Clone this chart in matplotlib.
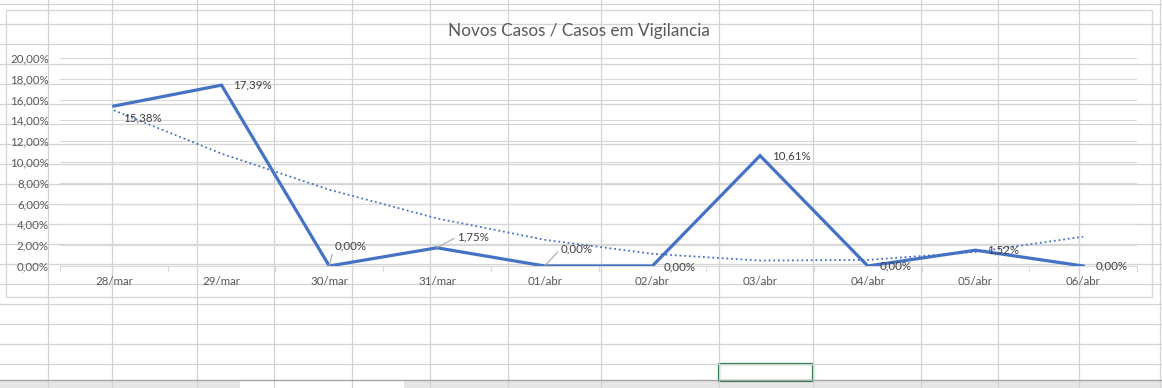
import numpy as np
import matplotlib
matplotlib.use("Agg")
import matplotlib.pyplot as plt
from matplotlib.patches import Rectangle
from matplotlib.ticker import FuncFormatter, FixedLocator

plt.rcParams['font.family'] = ['Lato', 'DejaVu Sans']

# dados
dias = ["28/mar", "29/mar", "30/mar", "31/mar", "01/abr",
        "02/abr", "03/abr", "04/abr", "05/abr", "06/abr"]
taxa = [0.1538, 0.1739, 0.0, 0.0175, 0.0, 0.0, 0.1061, 0.0, 0.0152, 0.0]
yticks = [0.0, 0.02, 0.04, 0.06, 0.08, 0.10, 0.12, 0.14, 0.16, 0.18, 0.20]

# deslocamento dos rotulos (pixels) e se tem linha de chamada
rot_off = [(9, -12), (11, 0), (5, 20), (20, 11), (16, 17),
           (11, -1), (12, 0), (12, 0), (12, 0), (12, 0)]
rot_lider = [False, False, True, True, True, False, False, False, False, False]

W, H = 1162, 388
fig = plt.figure(figsize=(W / 100, H / 100), dpi=100)

# fundo de planilha
bg = fig.add_axes([0, 0, 1, 1])
bg.set_xlim(0, W)
bg.set_ylim(H, 0)
bg.xaxis.set_major_locator(FixedLocator([48, 112, 197, 274, 352, 430, 508, 601,
                                         719, 813, 921, 998, 1079, 1160]))
bg.yaxis.set_major_locator(FixedLocator(list(range(4, 380, 20))))
bg.grid(True, color="#d4d4d4", linewidth=0.9)
bg.tick_params(length=0, labelbottom=False, labelleft=False)
for s in bg.spines.values():
    s.set_visible(False)
bg.add_patch(Rectangle((0, 380), W, 8, facecolor="#e6e6e6", edgecolor="none"))
bg.axhline(380, color="#a6a6a6", linewidth=1)
bg.add_patch(Rectangle((240, 379), 164, 9, facecolor="white", edgecolor="none"))
bg.add_patch(Rectangle((719, 364), 94, 17, facecolor="none", edgecolor="#217346", linewidth=1.6))
# area do grafico
bg.add_patch(Rectangle((6, 10), 1146, 287, facecolor="white", edgecolor="#d9d9d9", linewidth=1))

ax = fig.add_axes([60 / W, 122 / H, 1077 / W, 208 / H])
ax.set_facecolor("none")
x = np.arange(len(dias))

# linha de tendencia polinomial (ordem 2)
coef = np.polyfit(x, taxa, 2)
ax.plot(x, np.polyval(coef, x), color="#4472c4", linewidth=1.3,
        linestyle=(0, (1, 1.6)), zorder=2)

ax.plot(x, taxa, color="#4472c4", linewidth=2.3, solid_joinstyle="miter", zorder=3)

for i, v in enumerate(taxa):
    dx, dy = rot_off[i]
    txt = ("%.2f%%" % (v * 100)).replace(".", ",")
    kw = {}
    if rot_lider[i]:
        kw["arrowprops"] = dict(arrowstyle="-", color="#a6a6a6", linewidth=0.8,
                                shrinkA=0, shrinkB=0, relpos=(0, 0.5))
    ax.annotate(txt, (i, v), xytext=(dx, dy), textcoords="offset pixels",
                ha="left", va="center", fontsize=8.3, color="#404040", zorder=4, **kw)

ax.set_xlim(-0.5, len(dias) - 0.5)
ax.set_ylim(0, 0.20)
ax.set_yticks(yticks)
ax.yaxis.set_major_formatter(FuncFormatter(lambda v, p: ("%.2f%%" % (v * 100)).replace(".", ",")))
ax.grid(axis="y", color="#d9d9d9", linewidth=0.8)
ax.set_axisbelow(True)

ax.set_xticks(np.arange(-0.5, len(dias)), minor=False)
ax.set_xticklabels([])
ax.set_xticks(x, minor=True)
ax.set_xticklabels(dias, minor=True)
ax.tick_params(axis="x", which="major", length=4, color="#d9d9d9", width=0.8)
ax.tick_params(axis="x", which="minor", length=0, pad=7, labelsize=8.3, labelcolor="#595959")
ax.tick_params(axis="y", length=0, pad=8, labelsize=8.3, labelcolor="#595959")

for s in ["top", "right", "left"]:
    ax.spines[s].set_visible(False)
ax.spines["bottom"].set_color("#d9d9d9")
ax.spines["bottom"].set_linewidth(0.8)

fig.text(579 / W, 1 - 31 / H, "Novos Casos / Casos em Vigilancia",
         ha="center", va="center", fontsize=12.3, color="#595959")

fig.savefig("out.png", dpi=100)
